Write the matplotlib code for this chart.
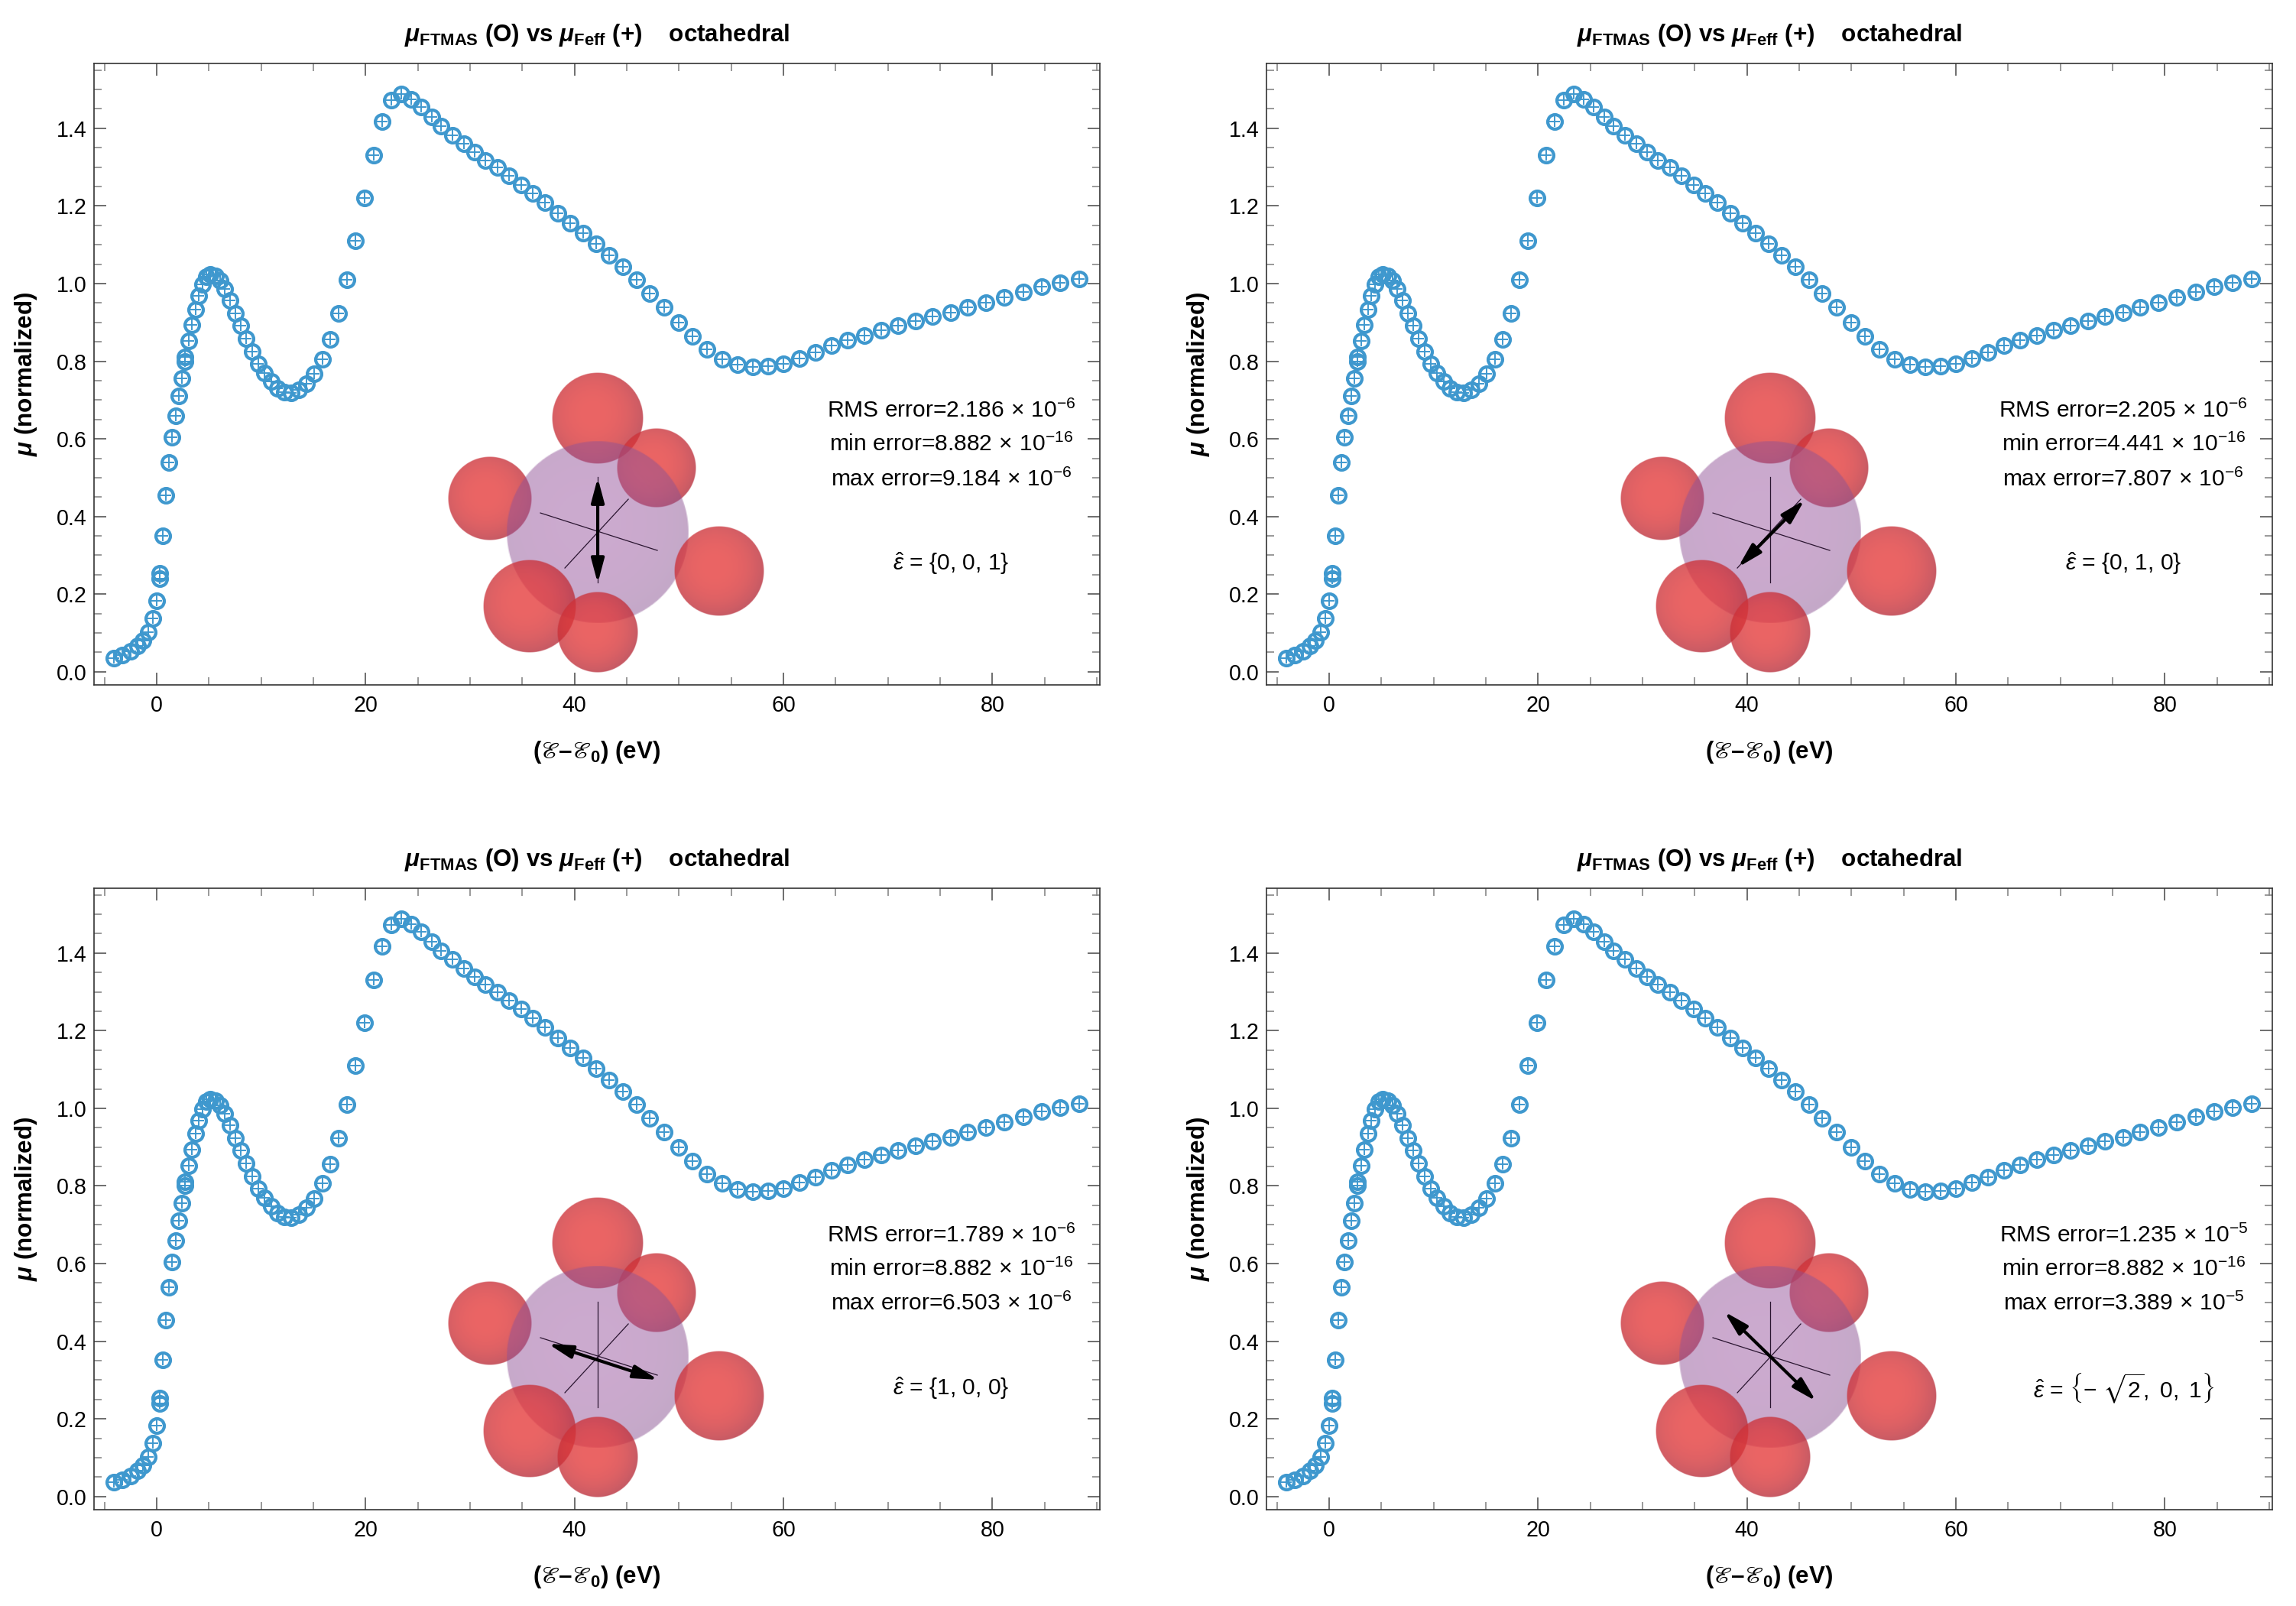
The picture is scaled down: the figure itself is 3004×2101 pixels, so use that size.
import numpy as np
import matplotlib
matplotlib.use("Agg")
import matplotlib.pyplot as plt
from matplotlib.ticker import MultipleLocator

plt.rcParams["font.family"] = ["Liberation Sans", "DejaVu Sans"]
plt.rcParams["mathtext.fontset"] = "custom"
plt.rcParams["mathtext.rm"] = "Liberation Sans"
plt.rcParams["mathtext.it"] = "Liberation Sans:italic"
plt.rcParams["mathtext.bf"] = "Liberation Sans:bold"
plt.rcParams["mathtext.bfit"] = "Liberation Sans:bold:italic"
plt.rcParams["mathtext.fallback"] = "stix"

# energy grid (eV) and normalized absorption
energy = [-4.10, -3.32, -2.46, -1.85, -1.32, -0.83, -0.39, -0.03, 0.29, 0.29,
          0.58, 0.88, 1.17, 1.49, 1.80, 2.12, 2.41, 2.68, 2.68, 3.05,
          3.34, 3.71, 4.00, 4.36, 4.73, 5.14, 5.61, 6.07, 6.51, 7.02,
          7.53, 8.05, 8.58, 9.14, 9.73, 10.29, 10.95, 11.56, 12.24, 12.90,
          13.63, 14.36, 15.09, 15.87, 16.63, 17.41, 18.21, 19.04, 19.90, 20.75,
          21.60, 22.48, 23.43, 24.36, 25.33, 26.31, 27.24, 28.34, 29.38, 30.43,
          31.50, 32.60, 33.72, 34.87, 35.97, 37.19, 38.41, 39.62, 40.80, 42.06,
          43.33, 44.62, 45.92, 47.23, 48.60, 49.99, 51.33, 52.72, 54.13, 55.60,
          57.06, 58.52, 59.99, 61.52, 63.04, 64.62, 66.16, 67.79, 69.38, 71.01,
          72.67, 74.30, 76.01, 77.67, 79.42, 81.15, 82.96, 84.74, 86.52, 88.35]
mu_ftmas = [0.036, 0.042, 0.053, 0.067, 0.080, 0.102, 0.137, 0.183, 0.240, 0.253,
            0.351, 0.454, 0.539, 0.605, 0.660, 0.710, 0.756, 0.800, 0.810, 0.853,
            0.894, 0.934, 0.969, 0.998, 1.017, 1.024, 1.020, 1.008, 0.986, 0.957,
            0.924, 0.891, 0.858, 0.824, 0.794, 0.769, 0.747, 0.730, 0.720, 0.719,
            0.726, 0.743, 0.768, 0.806, 0.857, 0.924, 1.010, 1.110, 1.221, 1.331,
            1.417, 1.472, 1.489, 1.475, 1.455, 1.430, 1.405, 1.383, 1.360, 1.339,
            1.318, 1.299, 1.278, 1.255, 1.232, 1.209, 1.182, 1.156, 1.130, 1.102,
            1.073, 1.043, 1.010, 0.974, 0.938, 0.900, 0.864, 0.831, 0.806, 0.791,
            0.785, 0.788, 0.794, 0.808, 0.823, 0.840, 0.854, 0.867, 0.880, 0.891,
            0.903, 0.915, 0.926, 0.939, 0.951, 0.964, 0.979, 0.992, 1.002, 1.012]
mu_feff = mu_ftmas  # agrees to ~1e-6

rms_err = [("2.186", "-6"), ("2.205", "-6"), ("1.789", "-6"), ("1.235", "-5")]
min_err = [("8.882", "-16"), ("4.441", "-16"), ("8.882", "-16"), ("8.882", "-16")]
max_err = [("9.184", "-6"), ("7.807", "-6"), ("6.503", "-6"), ("3.389", "-5")]
eps_labels = [r"$\hat{\varepsilon}$ = {0, 0, 1}",
              r"$\hat{\varepsilon}$ = {0, 1, 0}",
              r"$\hat{\varepsilon}$ = {1, 0, 0}",
              r"$\hat{\varepsilon}$ = $\left\{-\ \sqrt{2},\ 0,\ 1\right\}$"]

# octahedron sketch (pixel units around the central atom)
ligand_xy = [(0, 149), (77, 84), (-141, 44), (159, -51), (-89, -97), (0, -131)]
ligand_r = [60, 52, 55, 59, 61, 53]
ligand_front = [False, False, False, True, True, True]
center_r = 120
axis_lines = [((-75, 25), (78, -24)), ((-43, -47), (40, 43)), ((0, 72), (0, -66))]
pol_arrows = [((0, -67), (0, 71)), ((-42, -46), (45, 42)),
              ((-65, 17), (79, -30)), ((-60, 59), (60, -58))]

blue = "#3f98ce"
title = (r"$\mathbfit{\mu}_{\mathbf{FTMAS}}$ (O) vs "
         r"$\mathbfit{\mu}_{\mathbf{Feff}}$ (+)    octahedral")


def sphere(ax, x, y, r, c_mid, c_edge, alpha, z):
    n = 200
    g = np.linspace(-1, 1, n)
    X, Y = np.meshgrid(g, g)
    d = np.hypot(X + 0.1, Y - 0.1)
    t = np.clip(d / 1.1, 0, 1) ** 2.5
    img = np.zeros((n, n, 4))
    for k in range(3):
        img[..., k] = c_mid[k] * (1 - t) + c_edge[k] * t
    rr = np.hypot(X, Y)
    img[..., 3] = alpha * np.clip((1 - rr) * n / 2, 0, 1)
    ax.imshow(img, extent=(x - r, x + r, y - r, y + r), origin="lower",
              zorder=z, interpolation="bilinear")


def molecule(ax, arrow):
    ins = ax.inset_axes([0.3321, 0.0074, 0.3419, 0.5043])
    ins.axis("off")
    red_mid, red_edge = (0.90, 0.22, 0.22), (0.72, 0.17, 0.22)
    for (x, y), r, front in zip(ligand_xy, ligand_r, ligand_front):
        sphere(ins, x, y, r, red_mid, red_edge, 0.78, 3 if front else 1)
    sphere(ins, 0, 0, center_r, (0.60, 0.33, 0.62), (0.54, 0.32, 0.57), 0.5, 2)
    for (x0, y0), (x1, y1) in axis_lines:
        ins.plot([x0, x1], [y0, y1], color="#2a1530", lw=0.45, zorder=2.5)
    (x0, y0), (x1, y1) = arrow
    ins.annotate("", xy=(x1, y1), xytext=(x0, y0), zorder=2.6,
                 arrowprops=dict(arrowstyle="<|-|>,head_length=0.6,head_width=0.16",
                                 color="black", lw=1.5, mutation_scale=16,
                                 shrinkA=0, shrinkB=0))
    ins.set_aspect("auto")
    ins.set_xlim(-222, 228)
    ins.set_ylim(-194, 216)


fig = plt.figure(figsize=(15.02, 10.505), dpi=200)
lefts = [0.04095, 0.5516, 0.04095, 0.5516]
bottoms = [0.5735, 0.5735, 0.05997, 0.05997]

for i in range(4):
    ax = fig.add_axes([lefts[i], bottoms[i], 0.4381, 0.38696])
    ax.plot(energy, mu_ftmas, "o", mfc="none", mec=blue, ms=6.8, mew=1.5, zorder=3)
    ax.plot(energy, mu_feff, "+", color=blue, ms=4.8, mew=0.7, zorder=3)
    ax.set_xlim(-6.0, 90.3)
    ax.set_ylim(-0.034, 1.567)
    ax.xaxis.set_major_locator(MultipleLocator(20))
    ax.xaxis.set_minor_locator(MultipleLocator(5))
    ax.yaxis.set_major_locator(MultipleLocator(0.2))
    ax.yaxis.set_minor_locator(MultipleLocator(0.05))
    ax.yaxis.set_major_formatter(matplotlib.ticker.FormatStrFormatter("%.1f"))
    ax.tick_params(which="both", direction="in", top=True, right=True,
                   labelsize=10.3, width=0.6)
    ax.tick_params(which="major", length=5.8, color="#555555")
    ax.tick_params(which="minor", length=3.6, color="#888888")
    ax.tick_params(axis="x", which="major", pad=4.5)
    ax.tick_params(axis="y", which="major", pad=3.5)
    for s in ax.spines.values():
        s.set_linewidth(0.6)
        s.set_color("#333333")
    ax.set_title(title, fontsize=11.3, fontweight="bold", pad=10.5)
    ax.set_xlabel(r"($\mathrm{ℰ}$–$\mathrm{ℰ}_\mathbf{0}$) (eV)",
                  fontsize=11.3, fontweight="bold", labelpad=11)
    ax.set_ylabel(r"$\mathbfit{\mu}$ (normalized)", fontsize=11.3,
                  fontweight="bold", labelpad=8)

    fmt = "%s error=%s$\\,\\times\\,$10$^{%s}$"
    m, e = rms_err[i]
    ax.text(0.852, 0.4416, fmt % ("RMS", m, e),
            transform=ax.transAxes, ha="center", va="center", fontsize=10.8)
    m, e = min_err[i]
    ax.text(0.852, 0.3875, fmt % ("min", m, e),
            transform=ax.transAxes, ha="center", va="center", fontsize=10.8)
    m, e = max_err[i]
    ax.text(0.852, 0.331, fmt % ("max", m, e),
            transform=ax.transAxes, ha="center", va="center", fontsize=10.8)
    ax.text(0.852, 0.1956, eps_labels[i], transform=ax.transAxes,
            ha="center", va="center", fontsize=10.8)

    molecule(ax, pol_arrows[i])

fig.savefig("out.png", dpi=200)
